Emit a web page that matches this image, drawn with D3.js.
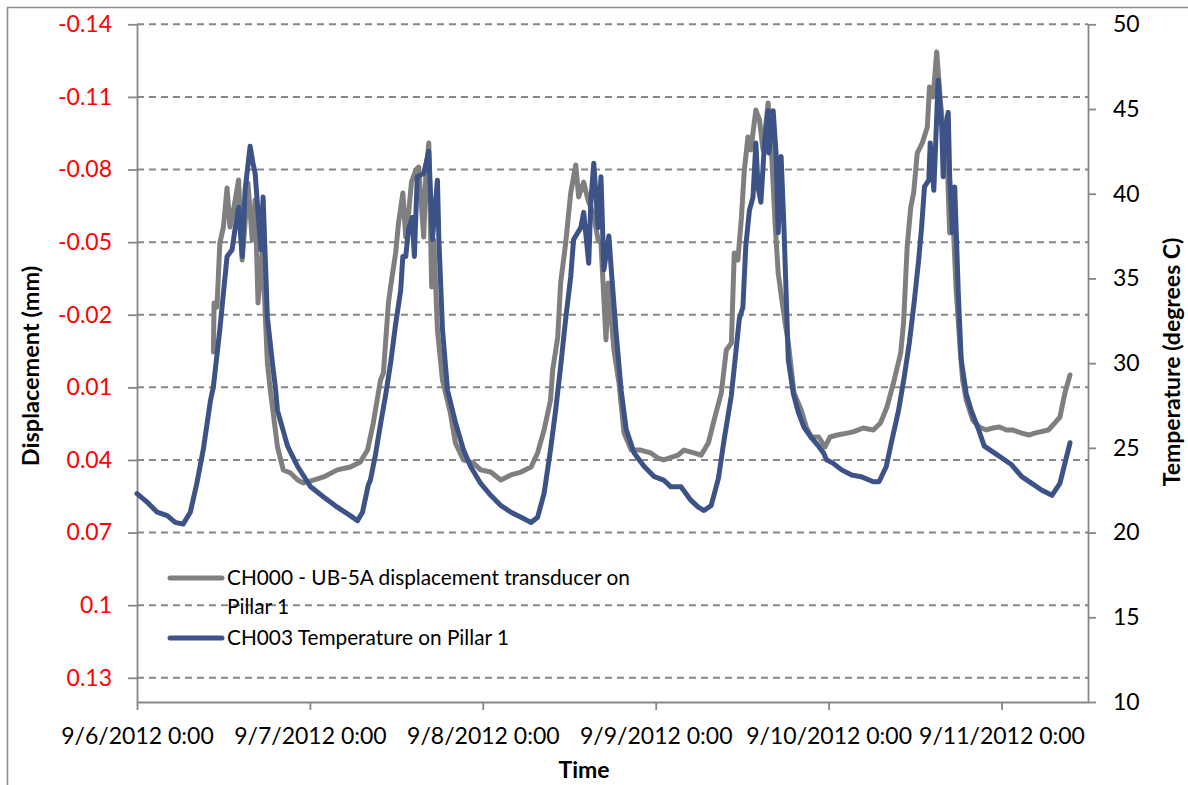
<!DOCTYPE html>
<html>
<head>
<meta charset="utf-8">
<script src="https://cdn.jsdelivr.net/npm/d3@7"></script>
<style>
  body { margin: 0; background: #fff; overflow: hidden; }
  svg { display: block; font-family: Lato, "Open Sans", sans-serif; }
</style>
</head>
<body>
<div id="chart"></div>
<script>
"use strict";

// Hours after 9/6/2012 0:00 and readings
var dispHours = [10.6, 10.7, 11.1, 11.5, 12.0, 12.5, 12.9, 13.4, 14.1, 14.6, 15.0, 15.4, 16.0, 16.4, 16.8, 17.4, 18.1, 18.5, 19.5, 20.3,
  21.3, 22.3, 23.1, 24.5, 25.9, 27.8, 29.6, 31.0, 32.0, 32.8, 33.8, 34.2, 34.9, 35.2, 35.9, 36.3, 36.9, 37.3, 37.7, 38.1,
  38.7, 39.1, 39.8, 40.1, 40.5, 40.9, 41.2, 41.7, 42.4, 43.5, 44.2, 45.3, 46.7, 47.7, 49.1, 50.5, 51.9, 53.3, 54.7, 55.6,
  56.5, 57.4, 57.7, 58.4, 58.8, 59.5, 60.2, 60.9, 61.3, 62.0, 62.6, 63.4, 64.0, 64.4, 65.1, 65.4, 66.2, 66.9, 67.6, 68.6,
  69.9, 71.3, 72.3, 73.1, 75.1, 75.9, 77.3, 78.3, 79.3, 80.1, 81.1, 81.8, 82.5, 82.9, 83.4, 83.9, 84.3, 84.8, 85.2, 85.9,
  86.4, 86.9, 87.6, 88.0, 88.6, 89.0, 89.7, 90.4, 91.2, 92.2, 92.9, 93.6, 94.6, 95.5, 96.2, 97.2, 98.6, 99.4, 100.8, 102.2,
  103.2, 104.1, 105.0, 106.0, 106.4, 106.9, 107.4, 107.8, 108.3, 109.0, 109.7, 110.0, 110.5, 111.0, 111.5, 111.9, 112.4, 112.8, 113.2, 113.7,
  114.2, 114.6, 115.1, 116.0, 116.9, 117.9, 118.8, 119.7, 120.7, 121.5, 122.8, 123.8, 124.6, 126.5, 127.4, 128.1, 128.8, 129.5];
var dispValues = [-0.0046, -0.0249, -0.0232, -0.0496, -0.0563, -0.0724, -0.0563, -0.0633, -0.0757, -0.0426, -0.0579, -0.0744, -0.0509, -0.0674, -0.0249, -0.0468, -0.0001, 0.0111, 0.0346, 0.0441,
  0.0454, 0.0483, 0.0495, 0.0483, 0.0470, 0.0441, 0.0429, 0.0408, 0.0359, 0.0247, 0.0070, 0.0041, -0.0249, -0.0315, -0.0455, -0.0579, -0.0703, -0.0521, -0.0620, -0.0748,
  -0.0798, -0.0810, -0.0521, -0.0786, -0.0910, -0.0315, -0.0509, -0.0137, 0.0070, 0.0206, 0.0330, 0.0400, 0.0413, 0.0441, 0.0450, 0.0483, 0.0462, 0.0450, 0.0429, 0.0371,
  0.0276, 0.0152, 0.0028, -0.0108, -0.0331, -0.0496, -0.0703, -0.0819, -0.0687, -0.0748, -0.0674, -0.0612, -0.0509, -0.0496, -0.0096, -0.0331, -0.0054, 0.0082, 0.0289, 0.0359,
  0.0359, 0.0371, 0.0392, 0.0400, 0.0380, 0.0359, 0.0371, 0.0380, 0.0330, 0.0235, 0.0123, -0.0054, -0.0083, -0.0455, -0.0426, -0.0604, -0.0798, -0.0934, -0.0881, -0.1046,
  -0.1005, -0.0881, -0.1075, -0.0910, -0.0563, -0.0372, -0.0220, -0.0083, 0.0123, 0.0194, 0.0264, 0.0305, 0.0305, 0.0346, 0.0305, 0.0297, 0.0289, 0.0284, 0.0268, 0.0276,
  0.0247, 0.0181, 0.0082, -0.0042, -0.0166, -0.0480, -0.0645, -0.0703, -0.0868, -0.0910, -0.0976, -0.1141, -0.1100, -0.1286, -0.1087, -0.0963, -0.0881, -0.0538, -0.0633, -0.0302,
  -0.0083, 0.0070, 0.0152, 0.0235, 0.0264, 0.0276, 0.0268, 0.0264, 0.0276, 0.0276, 0.0289, 0.0297, 0.0289, 0.0276, 0.0247, 0.0223, 0.0123, 0.0049];

var tempHours = [0, 1.4, 2.8, 4.2, 5.3, 6.4, 7.4, 8.3, 9.2, 10.2, 10.6, 11.5, 12.5, 13.2, 13.6, 14.1, 14.6, 15.0, 15.7, 16.1,
  16.4, 16.8, 17.2, 17.5, 18.1, 18.8, 19.2, 19.5, 20.9, 22.3, 24.1, 25.9, 27.8, 29.6, 30.6, 31.3, 32.1, 32.4, 33.1, 33.8,
  34.5, 35.2, 35.9, 36.6, 36.9, 37.3, 37.7, 38.2, 38.5, 38.9, 39.8, 40.5, 41.0, 41.7, 41.9, 42.4, 43.1, 44.2, 45.3, 46.3,
  47.7, 49.1, 50.5, 51.9, 53.3, 54.7, 55.6, 56.5, 57.4, 58.1, 58.8, 59.5, 60.2, 60.6, 61.6, 62.0, 62.7, 63.0, 63.4, 64.0,
  64.4, 64.8, 65.5, 65.8, 66.5, 67.2, 67.9, 69.0, 70.4, 71.8, 73.1, 74.1, 75.5, 76.9, 77.9, 78.7, 79.7, 80.7, 81.5, 82.5,
  83.6, 84.1, 84.5, 85.0, 85.5, 85.9, 86.2, 86.6, 87.1, 87.6, 87.7, 88.3, 88.7, 89.0, 89.4, 89.8, 90.1, 90.4, 91.1, 91.8,
  92.6, 93.6, 94.6, 95.3, 95.7, 96.6, 97.8, 99.2, 100.5, 102.2, 103.0, 104.0, 104.7, 105.7, 106.5, 107.2, 107.9, 108.5, 108.9, 109.3,
  109.9, 110.1, 110.6, 111.2, 111.7, 111.9, 112.2, 112.6, 112.8, 113.2, 113.5, 114.0, 114.4, 115.1, 115.8, 116.8, 117.6, 119.0, 120.4, 121.4,
  122.8, 124.2, 125.6, 127.0, 128.1, 128.8, 129.5];
var tempValues = [22.3, 21.8, 21.2, 21.0, 20.6, 20.5, 21.2, 22.9, 24.9, 27.8, 28.6, 32.0, 36.3, 36.7, 37.9, 39.2, 36.3, 40.2, 42.8, 41.8,
  41.2, 38.9, 36.7, 39.8, 32.7, 30.0, 28.6, 27.2, 25.1, 23.9, 22.7, 22.1, 21.5, 21.0, 20.7, 21.2, 22.8, 23.1, 24.6, 26.4,
  28.1, 30.0, 32.3, 34.3, 36.3, 36.3, 37.9, 38.6, 36.3, 41.0, 41.2, 42.5, 37.3, 40.8, 37.3, 32.0, 28.4, 26.5, 24.9, 23.9,
  22.9, 22.2, 21.6, 21.2, 20.9, 20.6, 20.9, 22.3, 24.9, 27.2, 29.8, 32.6, 35.1, 37.3, 38.0, 38.9, 35.9, 39.6, 41.8, 38.0,
  41.0, 35.5, 37.5, 35.7, 31.8, 28.4, 26.1, 24.7, 23.9, 23.3, 23.1, 22.7, 22.7, 21.9, 21.5, 21.3, 21.6, 23.2, 25.5, 28.1,
  32.6, 33.3, 36.9, 39.0, 39.8, 43.0, 40.4, 39.5, 43.0, 44.9, 42.4, 44.9, 42.4, 37.7, 42.2, 38.0, 34.1, 30.2, 28.2, 27.1,
  26.2, 25.6, 25.1, 24.7, 24.3, 24.1, 23.7, 23.4, 23.3, 23.0, 23.0, 23.9, 25.3, 27.2, 29.2, 31.2, 33.7, 36.1, 38.0, 40.4,
  40.8, 43.0, 40.2, 46.7, 43.9, 41.0, 43.9, 44.8, 41.0, 37.7, 40.4, 34.1, 30.2, 28.2, 27.2, 26.1, 25.1, 24.7, 24.3, 24.0,
  23.3, 22.9, 22.5, 22.2, 22.9, 24.1, 25.3];

var dispTicks = [-0.14, -0.11, -0.08, -0.05, -0.02, 0.01, 0.04, 0.07, 0.1, 0.13];
var dispTickLabels = ["-0.14", "-0.11", "-0.08", "-0.05", "-0.02", "0.01", "0.04", "0.07", "0.1", "0.13"];
var tempTicks = [10, 15, 20, 25, 30, 35, 40, 45, 50];
var dayTicks = ["2012-09-06", "2012-09-07", "2012-09-08", "2012-09-09", "2012-09-10", "2012-09-11"];

var seriesNames = ["CH000 - UB-5A displacement transducer on", "Pillar 1", "CH003 Temperature on Pillar 1"];

var W = 1188;
var H = 785;
var plotL = 137, plotR = 1088, plotT = 24.3, plotB = 702;
var gridColor = "#878787";
var grayLine = "#7f7f7f";
var blueLine = "#3d5286";

var start = new Date(2012, 8, 6, 0, 0);
function atHour(h) { return new Date(start.getTime() + h * 3600e3); }
function parseDay(s) { var p = s.split("-"); return new Date(+p[0], +p[1] - 1, +p[2]); }

var svg = d3.select("#chart").append("svg")
  .attr("width", W)
  .attr("height", H);

svg.append("rect").attr("width", W).attr("height", H).attr("fill", "#fff");
// outer chart border (only top/left are inside the picture)
svg.append("rect")
  .attr("x", 7.5).attr("y", 7.5)
  .attr("width", 1200).attr("height", 800)
  .attr("fill", "none").attr("stroke", "#8c8c8c").attr("stroke-width", 1.5);

var x = d3.scaleTime()
  .domain([start, new Date(2012, 8, 11, 12, 0)])
  .range([plotL, plotR]);
var yDisp = d3.scaleLinear().domain([-0.14, 0.14]).range([plotT, plotB]);
var yTemp = d3.scaleLinear().domain([10, 50]).range([plotB, plotT]);

// dashed gridlines at displacement ticks
svg.append("g")
  .selectAll("line")
  .data(dispTicks)
  .enter()
  .append("line")
    .attr("x1", plotL).attr("x2", plotR)
    .attr("y1", d => yDisp(d)).attr("y2", d => yDisp(d))
    .attr("stroke", gridColor)
    .attr("stroke-width", 2)
    .attr("stroke-dasharray", "7,5");

function styleAxis(g) {
  g.select(".domain").attr("stroke", gridColor).attr("stroke-width", 1.8);
  g.selectAll(".tick line").attr("stroke", gridColor).attr("stroke-width", 1.8);
  g.selectAll("text").attr("font-family", "Lato, sans-serif");
}

// left axis
var leftAxis = svg.append("g")
  .attr("transform", "translate(" + plotL + ",0)")
  .call(d3.axisLeft(yDisp).tickValues(dispTicks).tickSize(9).tickSizeOuter(0).tickPadding(16)
    .tickFormat((d, i) => dispTickLabels[i]))
  .call(styleAxis);
leftAxis.selectAll("text").attr("font-size", 23).attr("fill", "#ff0000");

// right axis
var rightAxis = svg.append("g")
  .attr("transform", "translate(" + plotR + ",0)")
  .call(d3.axisRight(yTemp).tickValues(tempTicks).tickSize(8).tickSizeOuter(0).tickPadding(17)
    .tickFormat(d3.format("d")))
  .call(styleAxis);
rightAxis.selectAll("text").attr("font-size", 23).attr("fill", "#000");

// bottom axis
var fmt = d3.timeFormat("%-m/%-d/%Y %-H:%M");
var bottomAxis = svg.append("g")
  .attr("transform", "translate(0," + plotB + ")")
  .call(d3.axisBottom(x).tickValues(dayTicks.map(parseDay)).tickSize(8).tickSizeOuter(0).tickPadding(18)
    .tickFormat(fmt))
  .call(styleAxis);
bottomAxis.selectAll("text").attr("font-size", 23).attr("fill", "#000");

// series
var dispData = dispHours.map((h, i) => ({t: atHour(h), v: dispValues[i]}));
var tempData = tempHours.map((h, i) => ({t: atHour(h), v: tempValues[i]}));

var dispLine = d3.line().x(d => x(d.t)).y(d => yDisp(d.v));
var tempLine = d3.line().x(d => x(d.t)).y(d => yTemp(d.v));

svg.append("path")
  .datum(dispData)
  .attr("d", dispLine)
  .attr("fill", "none")
  .attr("stroke", grayLine)
  .attr("stroke-width", 5)
  .attr("stroke-linejoin", "round")
  .attr("stroke-linecap", "round");

svg.append("path")
  .datum(tempData)
  .attr("d", tempLine)
  .attr("fill", "none")
  .attr("stroke", blueLine)
  .attr("stroke-width", 5)
  .attr("stroke-linejoin", "round")
  .attr("stroke-linecap", "round");

// axis titles
svg.append("text")
  .attr("x", 584).attr("y", 778)
  .attr("text-anchor", "middle")
  .attr("font-size", 23).attr("font-weight", "bold")
  .text("Time");

svg.append("text")
  .attr("transform", "translate(39,366) rotate(-90)")
  .attr("text-anchor", "middle")
  .attr("font-size", 23.5).attr("font-weight", "bold")
  .text("Displacement (mm)");

svg.append("text")
  .attr("transform", "translate(1180,362) rotate(-90)")
  .attr("text-anchor", "middle")
  .attr("font-size", 23).attr("font-weight", "bold")
  .text("Temperature (degrees C)");

// legend
var legend = svg.append("g").attr("transform", "translate(170,0)");
legend.append("line")
  .attr("x1", 0).attr("x2", 52).attr("y1", 578).attr("y2", 578)
  .attr("stroke", grayLine).attr("stroke-width", 5).attr("stroke-linecap", "round");
legend.append("line")
  .attr("x1", 0).attr("x2", 52).attr("y1", 638).attr("y2", 638)
  .attr("stroke", blueLine).attr("stroke-width", 5).attr("stroke-linecap", "round");
legend.selectAll("text.lg")
  .data(seriesNames)
  .enter()
  .append("text")
    .attr("class", "lg")
    .attr("x", 57)
    .attr("y", (d, i) => [578, 607, 638][i])
    .attr("dy", "0.35em")
    .attr("font-size", 20.8)
    .attr("fill", "#000")
    .text(d => d);
</script>
</body>
</html>
